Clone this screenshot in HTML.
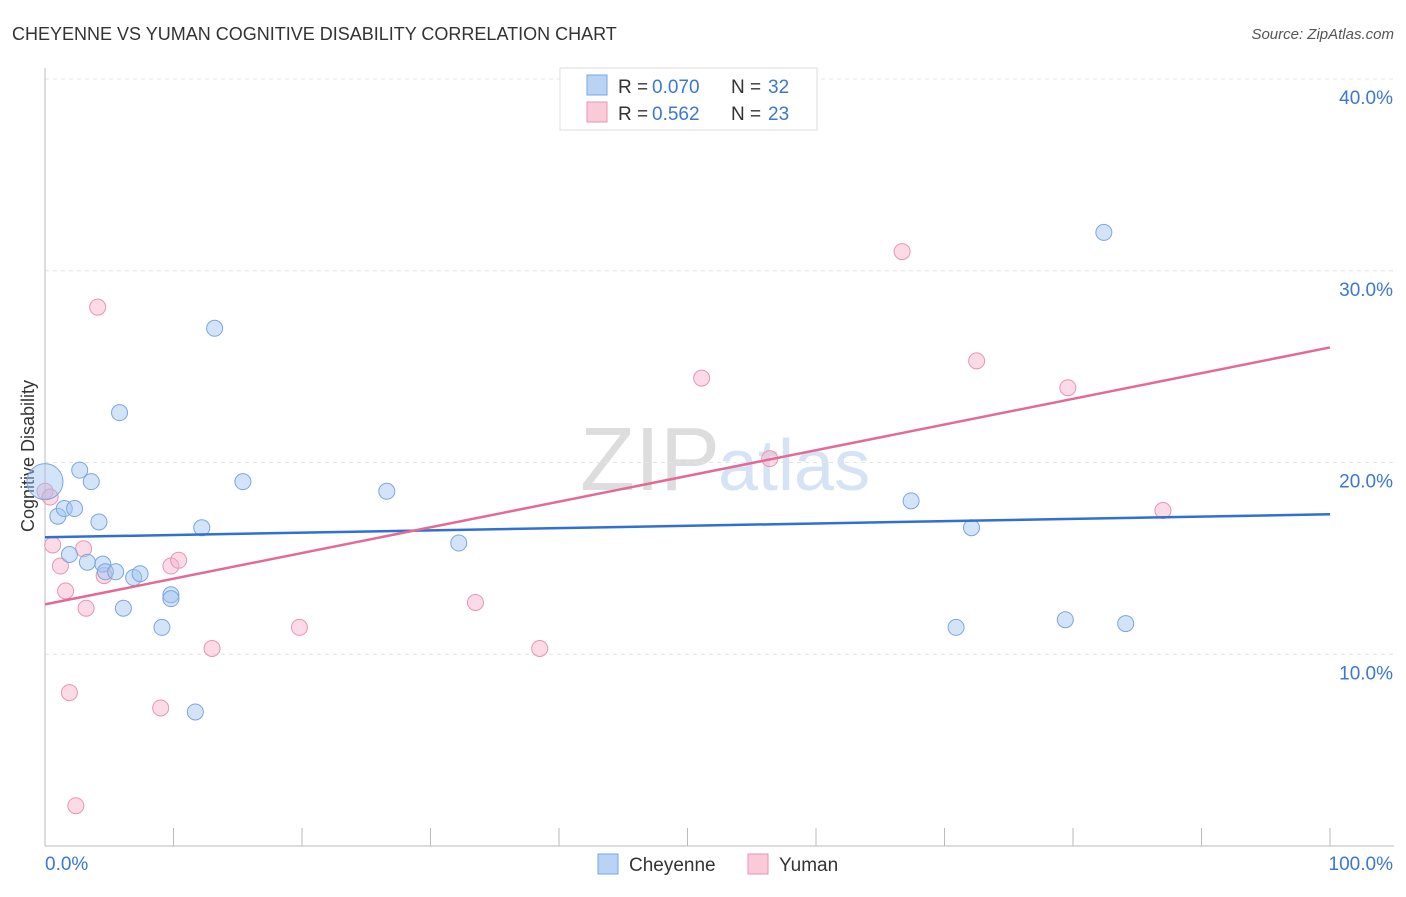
<!DOCTYPE html>
<html><head><meta charset="utf-8"><style>
body{margin:0;background:#fff;font-family:"Liberation Sans",sans-serif;}
svg text{font-family:"Liberation Sans",sans-serif;}
</style></head><body>
<svg id="c" width="1406" height="892"></svg>
<script>
const blueX=[0,1,1.5,2.3,2.7,3.6,4.2,1.9,3.3,4.5,4.7,5.5,6.9,7.4,5.8,6.1,9.1,9.8,9.8,11.7,13.2,12.2,15.4,26.6,32.2,67.4,72.1,82.4,70.9,79.4,84.1];
const blueY=[19.0,17.2,17.6,17.6,19.6,19.0,16.9,15.2,14.8,14.7,14.3,14.3,14.0,14.2,22.6,12.4,11.4,13.1,12.9,6.99,27.0,16.6,19.0,18.5,15.8,18.0,16.6,32.0,11.4,11.8,11.6];
const blueR=[18,8,8,8,8,8,8,8,8,8,8,8,8,8,8,8,8,8,8,8,8,8,8,8,8,8,8,8,8,8,8];
const pinkX=[0,0.4,0.6,1.2,1.6,1.9,2.4,3.0,3.2,4.1,4.6,9.0,9.8,10.4,13.0,19.8,33.5,38.5,51.1,56.4,66.7,72.5,79.6,87.0];
const pinkY=[18.5,18.2,15.7,14.6,13.3,8.0,2.1,15.5,12.4,28.1,14.1,7.2,14.6,14.9,10.3,11.4,12.7,10.3,24.4,20.2,31.0,25.3,23.9,17.5];
const blueLine=[16.1,17.3];
const pinkLine=[12.6,26.0];
const yTicks=[10,20,30,40];
const yTickLabels=["10.0%","20.0%","30.0%","40.0%"];
const xMin=0,xMax=100,yMin=0,yMax=40;
const sx=v=>45+(v-xMin)/(xMax-xMin)*1285;
const sy=v=>846-(v-yMin)/(yMax-yMin)*767;
const svg=document.getElementById('c');const NS='http://www.w3.org/2000/svg';
function mk(t,a,txt){const e=document.createElementNS(NS,t);for(const k in a)e.setAttribute(k,a[k]);if(txt!==undefined)e.textContent=txt;svg.appendChild(e);return e;}
let e;
e=mk('text',{x:12,y:40,'font-size':18,fill:'#333'},'CHEYENNE VS YUMAN COGNITIVE DISABILITY CORRELATION CHART');


e=mk('text',{x:1394,y:39,'font-size':15,fill:'#555','text-anchor':'end','font-style':'italic'},'Source: ZipAtlas.com');


e=mk('text',{x:720,y:490,'font-size':90,fill:'#ddd','text-anchor':'end','font-family':'Liberation Serif'},'ZIP');


e=mk('text',{x:718,y:490,'font-size':72,fill:'#d5e3f5'},'atlas');


yTicks.forEach((t,i)=>{
 e=mk('line',{x1:45,x2:1394,y1:sy(t),y2:sy(t),stroke:'#e4e4e4','stroke-dasharray':'4,4'});
 
 
 e=mk('text',{x:1393,y:sy(t)+25,'font-size':19,fill:'#3a78d4','text-anchor':'end'},yTickLabels[i]);
 
 
});
e=mk('line',{x1:45,x2:45,y1:68,y2:846,stroke:'#bbb'});


e=mk('line',{x1:45,x2:1394,y1:846,y2:846,stroke:'#bbb'});


for(let i=1;i<=10;i++){e=mk('line',{x1:sx(i*10),x2:sx(i*10),y1:828,y2:846,stroke:'#bbb'});
 
 }
e=mk('text',{x:45,y:870,'font-size':19,fill:'#3a78d4'},'0.0%');


e=mk('text',{x:1393,y:870,'font-size':19,fill:'#3a78d4','text-anchor':'end'},'100.0%');


e=mk('text',{x:34,y:456,'font-size':18,fill:'#333','text-anchor':'middle',transform:'rotate(-90 34 456)'},'Cognitive Disability');


pinkX.forEach((x,i)=>{e=mk('circle',{cx:sx(x),cy:sy(pinkY[i]),r:8,fill:'rgba(248,176,200,0.45)',stroke:'#e895b2','stroke-width':1});
 
 });
blueX.forEach((x,i)=>{e=mk('circle',{cx:sx(x),cy:sy(blueY[i]),r:blueR[i],fill:'rgba(160,195,240,0.45)',stroke:'#7aa6e0','stroke-width':1});
 
 });
e=mk('line',{x1:sx(0),x2:sx(100),y1:sy(blueLine[0]),y2:sy(blueLine[1]),stroke:'#2f6fd6','stroke-width':2.5});


e=mk('line',{x1:sx(0),x2:sx(100),y1:sy(pinkLine[0]),y2:sy(pinkLine[1]),stroke:'#e46a95','stroke-width':2.5});


e=mk('rect',{x:560,y:68,width:257,height:62,fill:'#fff',stroke:'#ddd'});


[['#b9d3f5','#7aa6e0','0.070','32',86],['#fbcad9','#e895b2','0.562','23',113]].forEach(r=>{
 e=mk('rect',{x:587,y:r[4]-11,width:20,height:20,fill:r[0],stroke:r[1]});
 
 
 e=mk('text',{x:618,y:r[4]+7,'font-size':19,fill:'#333'},'R = ');
 
 
 e=mk('text',{x:652,y:r[4]+7,'font-size':19,fill:'#3a78d4'},r[2]);
 
 
 e=mk('text',{x:731,y:r[4]+7,'font-size':19,fill:'#333'},'N = ');
 
 
 e=mk('text',{x:768,y:r[4]+7,'font-size':19,fill:'#3a78d4'},r[3]);
 
 
});
[['#b9d3f5','#7aa6e0','Cheyenne',598],['#fbcad9','#e895b2','Yuman',748]].forEach(r=>{
 e=mk('rect',{x:r[3],y:854,width:20,height:20,fill:r[0],stroke:r[1]});
 
 
 e=mk('text',{x:r[3]+31,y:871,'font-size':19,fill:'#333'},r[2]);
 
 
});
</script>
</body></html>
